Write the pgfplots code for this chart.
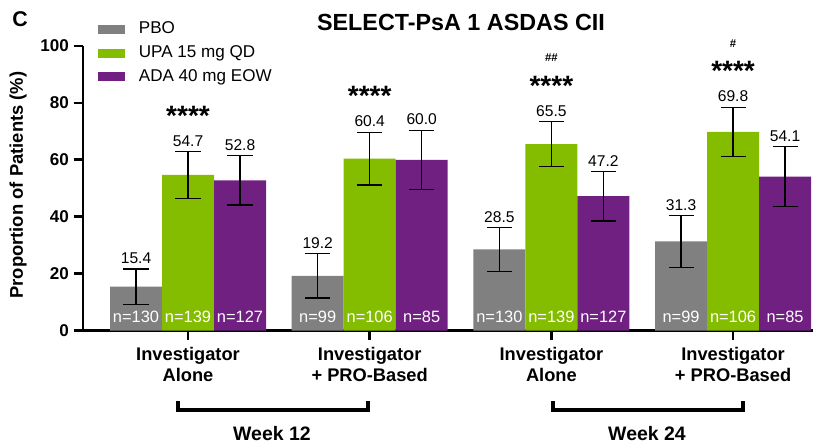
\documentclass[border=0pt]{standalone}
\usepackage{fontspec}
\setmainfont{Liberation Sans}
\usepackage{pgfplots}
\usepackage{pgfplotstable}
\pgfplotsset{compat=1.18}
\definecolor{cpbo}{RGB}{128,128,128}
\definecolor{cupa}{RGB}{132,189,0}
\definecolor{cada}{RGB}{112,32,128}

\pgfplotstableread{
x y e n
-0.2862 15.4 6.2 n=130
0.7138 19.2 7.8 n=99
1.7138 28.5 7.8 n=130
2.7138 31.3 9.1 n=99
}\pbo
\pgfplotstableread{
x y e n
0 54.7 8.3 n=139
1 60.4 9.3 n=106
2 65.5 7.9 n=139
3 69.8 8.7 n=106
}\upa
\pgfplotstableread{
x y e n
0.2862 52.8 8.7 n=127
1.2862 60.0 10.4 n=85
2.2862 47.2 8.7 n=127
3.2862 54.1 10.6 n=85
}\ada

\newcommand\vlab{\fontsize{11.7}{13}\selectfont}
\newcommand\nlab{\fontsize{12.3}{14}\selectfont}
\pgfplotsset{
  vallab/.style={forget plot, draw=none, mark=none, nodes near coords, point meta=explicit symbolic,
    nodes near coords style={anchor=south, inner sep=0pt, yshift=3.6pt, text=black, font=\vlab}},
  nlabs/.style={forget plot, draw=none, mark=none, nodes near coords, point meta=explicit symbolic,
    nodes near coords style={anchor=base, inner sep=0pt, yshift=6.3pt, text=white, font=\nlab}},
}

\begin{document}
\begin{tikzpicture}
\useasboundingbox (-62.25pt,-88.1pt) rectangle (561pt,247.9pt);
\begin{axis}[
  at={(0pt,0pt)}, anchor=south west,
  scale only axis, width=547.5pt, height=213.4pt,
  xmin=-0.578, xmax=3.44, ymin=0, ymax=100,
  clip=false,
  axis x line*=bottom, axis y line*=left,
  axis line style={-, line width=2.2pt, black},
  tick style={black, line width=2pt},
  major tick length=7pt, tick align=outside,
  xtick={0,1,2,3},
  xticklabels={{Investigator\\Alone},{Investigator\\+ PRO-Based},{Investigator\\Alone},{Investigator\\+ PRO-Based}},
  xticklabel style={align=center, yshift=-2pt, font=\fontsize{13.7}{15.5}\selectfont\bfseries},
  ytick={0,20,40,60,80,100},
  /pgf/number format/assume math mode=true,
  yticklabel style={font=\fontsize{12.8}{14}\selectfont\bfseries},
  ylabel={Proportion of Patients (\%)},
  every axis y label/.style={at={(axis description cs:-0.089,0.511)}, rotate=90, anchor=center, font=\fontsize{13.8}{15}\selectfont\bfseries},
  title={SELECT-PsA 1 ASDAS CII},
  title style={at={(axis description cs:0.5178,1.055)}, anchor=center, yshift=0pt, font=\fontsize{17.5}{20}\selectfont\bfseries},
  legend cell align=left,
  legend style={at={(axis description cs:0.0205,1.088)}, anchor=north west, draw=none, fill=none, inner sep=0pt, row sep=5.5pt, column sep=10.5pt, font=\fontsize{12.8}{14}\selectfont, nodes={inner sep=0pt, text height=9.3pt, text depth=3pt}},
  error bars/error bar style={black, line width=1pt},
  error bars/error mark options={black, line width=1pt, mark size=9.4pt, rotate=90},
]
\addplot[ybar, bar width=0.2862, bar shift=0pt, fill=cpbo, draw=none,
  legend image code/.code={\fill[cpbo] (0pt,-3.4pt) rectangle (20pt,3.4pt);},
  error bars/.cd, y dir=both, y explicit]
  table[x=x, y=y, y error=e]{\pbo};
\addlegendentry{PBO}
\addplot[ybar, bar width=0.2862, bar shift=0pt, fill=cupa, draw=none,
  legend image code/.code={\fill[cupa] (0pt,-3.4pt) rectangle (20pt,3.4pt);},
  error bars/.cd, y dir=both, y explicit]
  table[x=x, y=y, y error=e]{\upa};
\addlegendentry{UPA 15 mg QD}
\addplot[ybar, bar width=0.2862, bar shift=0pt, fill=cada, draw=none,
  legend image code/.code={\fill[cada] (0pt,-3.4pt) rectangle (20pt,3.4pt);},
  error bars/.cd, y dir=both, y explicit]
  table[x=x, y=y, y error=e]{\ada};
\addlegendentry{ADA 40 mg EOW}

\addplot[vallab] table[x=x, y expr=\thisrow{y}+\thisrow{e}, meta=y]{\pbo};
\addplot[vallab] table[x=x, y expr=\thisrow{y}+\thisrow{e}, meta=y]{\upa};
\addplot[vallab] table[x=x, y expr=\thisrow{y}+\thisrow{e}, meta=y]{\ada};
\addplot[nlabs] table[x=x, y expr=0, meta=n]{\pbo};
\addplot[nlabs] table[x=x, y expr=0, meta=n]{\upa};
\addplot[nlabs] table[x=x, y expr=0, meta=n]{\ada};

\node[anchor=north, inner sep=0pt, font=\fontsize{21}{24}\selectfont\bfseries] at (axis cs:0,79.0) {****};
\node[anchor=north, inner sep=0pt, font=\fontsize{21}{24}\selectfont\bfseries] at (axis cs:1,86.0) {****};
\node[anchor=north, inner sep=0pt, font=\fontsize{21}{24}\selectfont\bfseries] at (axis cs:2,89.5) {****};
\node[anchor=north, inner sep=0pt, font=\fontsize{21}{24}\selectfont\bfseries] at (axis cs:3,94.8) {****};
\node[anchor=north, inner sep=0pt, font=\fontsize{8.5}{10}\selectfont\bfseries] at (axis cs:2,97.2) {\#\#};
\node[anchor=north, inner sep=0pt, font=\fontsize{8.5}{10}\selectfont\bfseries] at (axis cs:3,102.4) {\#};
\end{axis}
\node[font=\fontsize{16}{18}\selectfont\bfseries] at (-47.25pt,233.3pt) {C};
\draw[line width=2.4pt] (71.25pt,-53.1pt) -- (71.25pt,-59.6pt) -- (213.75pt,-59.6pt) -- (213.75pt,-53.1pt);
\draw[line width=2.4pt] (352.5pt,-53.1pt) -- (352.5pt,-59.6pt) -- (495pt,-59.6pt) -- (495pt,-53.1pt);
\node[font=\fontsize{14.6}{16}\selectfont\bfseries] at (141.75pt,-77.6pt) {Week 12};
\node[font=\fontsize{14.6}{16}\selectfont\bfseries] at (423pt,-77.6pt) {Week 24};
\end{tikzpicture}
\end{document}
